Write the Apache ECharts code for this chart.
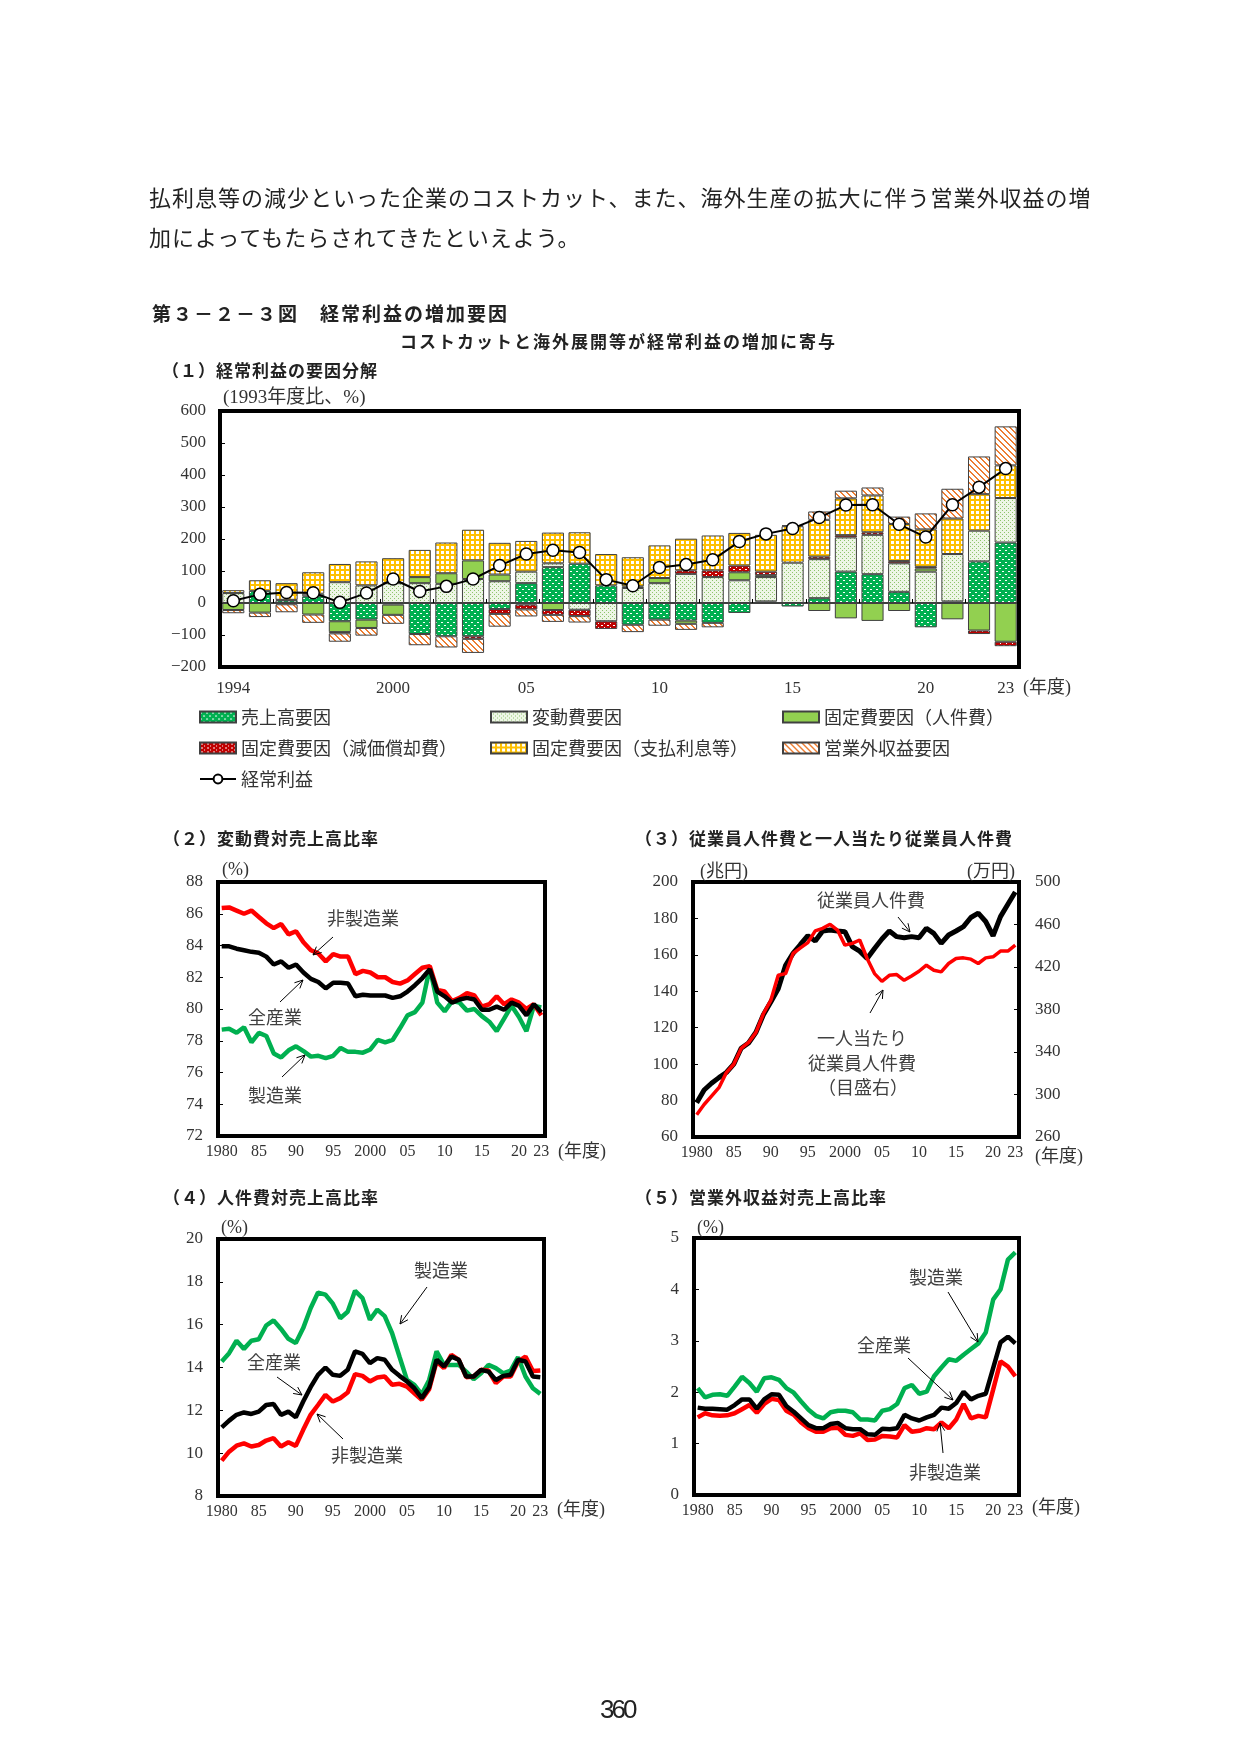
<!DOCTYPE html>
<html lang="ja">
<head>
<meta charset="utf-8">
<title>第３－２－３図　経常利益の増加要因</title>
<script src="https://cdn.jsdelivr.net/npm/echarts@6/dist/echarts.min.js"></script>
<style>
  html, body { margin: 0; padding: 0; background: #fff; }
  #page { position: relative; width: 1241px; height: 1755px; background: #fff; overflow: hidden; }
  #chart { position: absolute; left: 0; top: 0; width: 1241px; height: 1755px; }
  .txt { position: absolute; white-space: nowrap; color: #222; font-family: 'Noto Sans CJK JP', sans-serif; z-index: 2; }
  .body { font-size: 22px; line-height: 28px; letter-spacing: 1px; font-weight: 400; }
  .head { font-weight: 700; font-size: 19px; line-height: 24px; letter-spacing: 2px; }
  .sub { font-weight: 700; font-size: 17px; line-height: 22px; letter-spacing: 2px; }
  .sec { font-weight: 700; font-size: 17px; line-height: 22px; letter-spacing: 1px; }
  .pno { font-family: 'Liberation Sans', sans-serif; font-size: 26px; line-height: 30px; letter-spacing: -3px; }
</style>
</head>
<body>
<div id="page">
  <div id="chart"></div>
  <div class="txt body" style="left:149px; top:182px;">払利息等の減少といった企業のコストカット、また、海外生産の拡大に伴う営業外収益の増</div>
  <div class="txt body" style="left:149px; top:222px;">加によってもたらされてきたといえよう。</div>
  <div class="txt head" style="left:152px; top:301px;">第３－２－３図　経常利益の増加要因</div>
  <div class="txt sub" style="left:400px; top:330px;">コストカットと海外展開等が経常利益の増加に寄与</div>
  <div class="txt sec" style="left:162px; top:359px;">（１）経常利益の要因分解</div>
  <div class="txt sec" style="left:163px; top:827px;">（２）変動費対売上高比率</div>
  <div class="txt sec" style="left:635px; top:827px;">（３）従業員人件費と一人当たり従業員人件費</div>
  <div class="txt sec" style="left:163px; top:1186px;">（４）人件費対売上高比率</div>
  <div class="txt sec" style="left:635px; top:1186px;">（５）営業外収益対売上高比率</div>
  <div class="txt pno" style="left:600px; top:1694px;">360</div>
</div>
<script>
// ---- (1) 経常利益の要因分解（1993年度比、%） ----
const years1 = ['1994', '1995', '1996', '1997', '1998', '1999', '2000', '2001', '2002', '2003',
  '2004', '2005', '2006', '2007', '2008', '2009', '2010', '2011', '2012', '2013',
  '2014', '2015', '2016', '2017', '2018', '2019', '2020', '2021', '2022', '2023'];
const tickYears1 = ['1994', '2000', '2005', '2010', '2015', '2020', '2023'];
const tickLabels1 = ['1994', '2000', '05', '10', '15', '20', '23'];

const salesFactor = [null, 38, 8, 21, -57, -52, -5, -97, -104, -104, -19, 62, 112, 123, 55,
  -68, -52, -55, -62, -31, 5, -11, 15, 98, 90, 35, -76, 5, 130, 189];
const variableFactor = [31, null, 2, 8, 65, 55, 62, 62, 60, 75, 68, 36, 12, -21, -57,
  47, 62, 91, 81, 71, 76, 126, 122, 107, 123, 89, 98, 148, 96, 139];
const laborFactor = [-22, -30, -4, -36, -34, -26, -32, 19, 33, 58, 21, -5, -22, null, null,
  5, 16, -10, null, 25, 6, null, -25, -48, -56, -25, 10, -51, -86, -121];
const deprFactor = [null, null, null, null, -4, null, null, null, null, -8, -15, -15, -15, -20, -24,
  null, null, 11, 21, 21, 11, null, 8, 7, 8, 7, 5, null, -11, -14];
const interestFactor = [9, 33, 52, 67, 57, 75, 78, 85, 96, 96, 99, 96, 96, 98, 98,
  91, 102, 99, 109, 102, 115, 114, 115, 115, 115, 116, 117, 111, 114, 102];
const nonOpFactor = [-10, -14, -25, -26, -26, -24, -28, -35, -35, -44, -40, -22, -22, -20, null,
  -23, -19, -19, -14, null, null, 3, 26, 24, 25, 23, 50, 93, 118, 122];
const ordinaryProfit = [7, 27, 33, 32, 2, 31, 75, 36, 52, 75, 117, 153, 165, 158, 73,
  54, 111, 120, 135, 192, 216, 233, 267, 306, 307, 246, 206, 307, 362, 420];

// ---- (2)-(5) 1980-2023年度 ----
const years2 = ['1980', '1981', '1982', '1983', '1984', '1985', '1986', '1987', '1988', '1989',
  '1990', '1991', '1992', '1993', '1994', '1995', '1996', '1997', '1998', '1999',
  '2000', '2001', '2002', '2003', '2004', '2005', '2006', '2007', '2008', '2009',
  '2010', '2011', '2012', '2013', '2014', '2015', '2016', '2017', '2018', '2019',
  '2020', '2021', '2022', '2023'];
const tickYears2 = ['1980', '1985', '1990', '1995', '2000', '2005', '2010', '2015', '2020', '2023'];
const tickLabels2 = ['1980', '85', '90', '95', '2000', '05', '10', '15', '20', '23'];

// (2) 変動費対売上高比率
const varRatioNonMfg = [86.36, 86.4, 86.2, 86.0, 86.2, 85.8, 85.4, 85.1, 85.35, 84.7,
  84.9, 84.2, 83.7, 83.5, 83.0, 83.45, 83.3, 83.3, 82.2, 82.4,
  82.3, 82.0, 82.0, 81.7, 81.6, 81.8, 82.2, 82.6, 82.7, 81.2,
  81.1, 80.5, 80.7, 81.0, 80.85, 80.15, 80.3, 80.8, 80.3, 80.6,
  80.4, 80.0, 80.3, 79.6];
const varRatioAll = [83.95, 83.95, 83.8, 83.7, 83.6, 83.55, 83.3, 82.8, 83.0, 82.6,
  82.8, 82.3, 81.9, 81.7, 81.3, 81.65, 81.65, 81.6, 80.8, 80.9,
  80.85, 80.85, 80.85, 80.7, 80.8, 81.1, 81.5, 81.95, 82.5, 81.1,
  80.8, 80.4, 80.6, 80.7, 80.6, 79.95, 79.95, 80.15, 79.95, 80.4,
  80.2, 79.6, 80.3, 79.8];
const varRatioMfg = [78.7, 78.75, 78.5, 78.85, 77.9, 78.5, 78.3, 77.2, 76.95, 77.4,
  77.65, 77.35, 77.0, 77.05, 76.9, 77.05, 77.55, 77.3, 77.3, 77.25,
  77.45, 78.05, 77.9, 78.05, 78.8, 79.6, 79.8, 80.4, 82.6, 80.4,
  79.85, 80.5, 80.4, 79.9, 80.0, 79.55, 79.2, 78.6, 79.4, 80.2,
  79.5, 78.6, 80.2, 80.1];

// (3) 従業員人件費（兆円）と一人当たり従業員人件費（万円）
const laborCostTotal = [78.8, 85.8, 89.5, 92.6, 95.4, 100, 108.7, 111.6, 117.5, 127.1,
  134.1, 141.4, 154.3, 160.8, 165.7, 170.5, 167.6, 173.1, 173.7, 173.1,
  172.7, 164.5, 162, 158, 163.5, 168.7, 173.1, 170, 169.4, 170,
  169.4, 174.6, 171.8, 166.3, 170.9, 173.1, 175.5, 180.5, 182.9, 178.3,
  170.5, 181, 187.8, 194.5];
const laborCostPerHead = [281, 290.6, 298.5, 306.4, 320.6, 328.5, 343.4, 349, 358.5, 376,
  388.5, 412.2, 413.8, 432.7, 438, 443, 454, 456.4, 460.2, 454.8,
  440.6, 442.2, 445.4, 428, 413.8, 406.5, 412.2, 412.9, 407.5, 411.6,
  416, 421.7, 417, 415.4, 423.3, 428, 428.6, 427.4, 423.3, 428.6,
  429.6, 435, 435, 440.6];

// (4) 人件費対売上高比率
const laborRatioMfg = [14.28, 14.67, 15.25, 14.87, 15.25, 15.32, 15.96, 16.2, 15.8, 15.34,
  15.14, 15.84, 16.77, 17.5, 17.4, 16.98, 16.3, 16.6, 17.58, 17.24,
  16.23, 16.7, 16.4, 15.6, 14.5, 13.42, 13.19, 12.75, 13.42, 14.75,
  14.12, 14.12, 14.12, 13.81, 13.45, 13.73, 14.12, 13.97, 13.73, 13.86,
  14.48, 13.58, 13.03, 12.77];
const laborRatioAll = [11.2, 11.52, 11.79, 11.9, 11.83, 11.94, 12.25, 12.3, 11.79, 11.94,
  11.68, 12.41, 13.08, 13.66, 14.0, 13.66, 13.61, 13.89, 14.75, 14.64,
  14.2, 14.44, 14.36, 13.89, 13.61, 13.35, 13.03, 12.57, 13.08, 14.36,
  14.05, 14.51, 14.36, 13.58, 13.58, 13.89, 13.81, 13.42, 13.61, 13.66,
  14.36, 14.28, 13.58, 13.55];
const laborRatioNonMfg = [9.65, 10.07, 10.35, 10.46, 10.31, 10.38, 10.59, 10.7, 10.31, 10.51,
  10.34, 11.09, 11.79, 12.25, 12.72, 12.41, 12.57, 12.83, 13.69, 13.61,
  13.35, 13.53, 13.58, 13.19, 13.24, 13.11, 12.8, 12.49, 12.99, 14.28,
  13.97, 14.59, 14.36, 13.55, 13.58, 13.89, 13.86, 13.27, 13.58, 13.58,
  14.28, 14.51, 13.84, 13.86];

// (5) 営業外収益対売上高比率
const nonOpRatioMfg = [2.08, 1.9, 1.95, 1.96, 1.93, 2.11, 2.3, 2.18, 2.01, 2.27,
  2.29, 2.24, 2.08, 1.99, 1.82, 1.66, 1.54, 1.49, 1.61, 1.64,
  1.64, 1.61, 1.47, 1.47, 1.45, 1.64, 1.67, 1.77, 2.08, 2.14,
  1.97, 2.01, 2.31, 2.48, 2.64, 2.61, 2.73, 2.84, 2.95, 3.16,
  3.8, 4.0, 4.58, 4.72];
const nonOpRatioAll = [1.7, 1.68, 1.68, 1.67, 1.66, 1.75, 1.86, 1.86, 1.68, 1.86,
  1.96, 1.95, 1.73, 1.62, 1.49, 1.36, 1.3, 1.3, 1.38, 1.4,
  1.3, 1.28, 1.28, 1.18, 1.17, 1.29, 1.28, 1.3, 1.56, 1.49,
  1.45, 1.51, 1.56, 1.7, 1.68, 1.79, 2.01, 1.86, 1.93, 1.97,
  2.47, 2.97, 3.08, 2.95];
const nonOpRatioNonMfg = [1.51, 1.59, 1.55, 1.54, 1.55, 1.59, 1.67, 1.75, 1.6, 1.77,
  1.87, 1.85, 1.64, 1.56, 1.41, 1.3, 1.23, 1.23, 1.3, 1.31,
  1.17, 1.15, 1.2, 1.07, 1.08, 1.15, 1.14, 1.12, 1.36, 1.23,
  1.25, 1.3, 1.28, 1.41, 1.3, 1.47, 1.77, 1.49, 1.54, 1.51,
  2.05, 2.6, 2.5, 2.31];

const FONT_NUM = "'Liberation Serif', 'Noto Sans CJK JP', serif";
const FONT_JP = "'Noto Sans CJK JP', sans-serif";
const RED = '#ff0000';
const GREEN = '#00b050';

// 塗りパターン
function makePattern(w, h, draw) {
  const c = document.createElement('canvas');
  c.width = w;
  c.height = h;
  draw(c.getContext('2d'));
  return { image: c, repeat: 'repeat' };
}
const patSales = makePattern(6, 6, (ctx) => {
  ctx.fillStyle = '#00b050'; ctx.fillRect(0, 0, 6, 6);
  ctx.fillStyle = '#ffffff'; ctx.fillRect(0, 1, 2, 1); ctx.fillRect(3, 4, 2, 1);
});
const patVariable = makePattern(4, 4, (ctx) => {
  ctx.fillStyle = '#eef6e6'; ctx.fillRect(0, 0, 4, 4);
  ctx.fillStyle = '#8fc46c'; ctx.fillRect(0, 0, 1, 1); ctx.fillRect(2, 2, 1, 1);
});
const patDepr = makePattern(6, 4, (ctx) => {
  ctx.fillStyle = '#c00000'; ctx.fillRect(0, 0, 6, 4);
  ctx.fillStyle = '#ffffff'; ctx.fillRect(1, 1, 2, 1); ctx.fillRect(4, 3, 1, 1);
});
const patInterest = makePattern(5, 5, (ctx) => {
  ctx.fillStyle = '#ffc000'; ctx.fillRect(0, 0, 5, 5);
  ctx.fillStyle = '#ffffff'; ctx.fillRect(1, 1, 3, 3);
});
const patNonOp = makePattern(6, 6, (ctx) => {
  ctx.fillStyle = '#ffffff'; ctx.fillRect(0, 0, 6, 6);
  ctx.fillStyle = '#ed7d31';
  for (let y = 0; y < 6; y++) {
    for (let x = 0; x < 6; x++) {
      if ((x - y + 6) % 6 < 2) ctx.fillRect(x, y, 1, 1);
    }
  }
});

function barSeries(name, data, color) {
  return {
    name, type: 'bar', stack: 'factor', xAxisIndex: 0, yAxisIndex: 0,
    data, barCategoryGap: '17%',
    itemStyle: { color, borderColor: '#404040', borderWidth: 1 },
    animation: false,
  };
}

function lineSeries(name, xi, yi, data, color, width) {
  return {
    name, type: 'line', xAxisIndex: xi, yAxisIndex: yi, data,
    symbol: 'none', lineStyle: { color, width }, itemStyle: { color },
    animation: false,
  };
}

function frame(left, top, width, height) {
  return { left, top, width, height, show: true, borderColor: '#000', borderWidth: 4,
    backgroundColor: 'transparent', outerBoundsMode: 'none' };
}

function yearAxis(gridIndex) {
  return {
    type: 'category', gridIndex, data: years2, boundaryGap: true,
    axisLine: { show: false }, axisTick: { show: false },
    axisLabel: {
      interval: (i) => tickYears2.includes(years2[i]),
      formatter: (v) => tickLabels2[tickYears2.indexOf(v)],
      fontSize: 16, fontFamily: FONT_NUM, color: '#333', margin: 8,
    },
  };
}

function valueAxis(gridIndex, min, max, interval, position, margin) {
  return {
    type: 'value', gridIndex, min, max, interval, position: position || 'left',
    axisLine: { show: false }, splitLine: { show: false },
    axisTick: { show: true, inside: true, length: 5, lineStyle: { color: '#000' } },
    axisLabel: {
      fontSize: 17, fontFamily: FONT_NUM, color: '#333', margin: margin || 15,
      formatter: (v) => (v < 0 ? '−' + Math.abs(v) : String(v)),
    },
  };
}

function label(text, x, y, opts) {
  const o = opts || {};
  const align = o.align || 'left';
  return {
    type: 'text', x, y, z: 100,
    style: {
      text, font: (o.size || 18) + 'px ' + (o.family || FONT_NUM), fill: o.color || '#333',
      align, textAlign: align, verticalAlign: 'middle', textVerticalAlign: 'middle',
    },
  };
}

function arrow(x1, y1, x2, y2) {
  const ang = Math.atan2(y2 - y1, x2 - x1);
  const L = 9, a = 0.45;
  return [
    { type: 'line', z: 100, shape: { x1, y1, x2, y2 }, style: { stroke: '#000', lineWidth: 1 } },
    { type: 'polyline', z: 100,
      shape: { points: [
        [x2 - L * Math.cos(ang - a), y2 - L * Math.sin(ang - a)],
        [x2, y2],
        [x2 - L * Math.cos(ang + a), y2 - L * Math.sin(ang + a)],
      ] },
      style: { stroke: '#000', fill: null, lineWidth: 1 } },
  ];
}

const legendItems = [
  ['売上高要因', 199, 717], ['変動費要因', 490, 717], ['固定費要因（人件費）', 782, 717],
  ['固定費要因（減価償却費）', 199, 748], ['固定費要因（支払利息等）', 490, 748], ['営業外収益要因', 782, 748],
  ['経常利益', 199, 779],
];

const annoTexts = [
  ['非製造業', 363, 918], ['全産業', 275, 1017], ['製造業', 275, 1095],
  ['従業員人件費', 871, 900], ['一人当たり', 862, 1038], ['従業員人件費', 862, 1063], ['（目盛右）', 863, 1087],
  ['製造業', 441, 1270], ['全産業', 274, 1362], ['非製造業', 367, 1455],
  ['製造業', 936, 1277], ['全産業', 884, 1345], ['非製造業', 945, 1472],
];
const annoArrows = [
  [333, 937, 313, 955], [280, 1002, 303, 980], [282, 1077, 305, 1055],
  [898, 917, 910, 932], [870, 1013, 883, 990],
  [427, 1287, 400, 1324], [277, 1377, 302, 1395], [343, 1439, 317, 1414],
  [948, 1292, 978, 1342], [908, 1358, 953, 1400], [943, 1453, 940, 1423],
];

const graphics = [
  label('(1993年度比、%)', 223, 398, { size: 19 }),
  label('(年度)', 1023, 688),
  label('(%)', 222, 870),
  label('(年度)', 558, 1152),
  label('(兆円)', 700, 872),
  label('(万円)', 967, 872),
  label('(年度)', 1035, 1157),
  label('(%)', 221, 1228),
  label('(年度)', 557, 1510),
  label('(%)', 697, 1228),
  label('(年度)', 1032, 1508),
];
annoTexts.forEach(([t, x, y]) => graphics.push(label(t, x, y, { align: 'center', family: FONT_JP, color: '#404040' })));
annoArrows.forEach(([x1, y1, x2, y2]) => graphics.push(...arrow(x1, y1, x2, y2)));

const chart = echarts.init(document.getElementById('chart'), null, { renderer: 'canvas' });

chart.setOption({
  backgroundColor: 'transparent',
  animation: false,
  textStyle: { fontFamily: FONT_JP },
  grid: [
    frame(220, 411, 799, 256),
    frame(218, 882, 327, 254),
    frame(693, 882, 326, 255),
    frame(218, 1239, 326, 257),
    frame(694, 1238, 325, 257),
  ],
  legend: legendItems.map(([name, x, y]) => ({
    data: [name], left: x, top: y - 9, padding: 0, itemGap: 0,
    itemWidth: 36, itemHeight: 11, selectedMode: false,
    icon: name === '経常利益' ? undefined : 'rect',
    textStyle: { fontSize: 18, lineHeight: 18, fontFamily: FONT_JP, color: '#333' },
  })),
  xAxis: [
    {
      type: 'category', gridIndex: 0, data: years1, position: 'bottom',
      axisLine: { show: false, onZero: false }, axisTick: { show: false },
      axisLabel: {
        interval: (i) => tickYears1.includes(years1[i]),
        formatter: (v) => tickLabels1[tickYears1.indexOf(v)],
        fontSize: 17, fontFamily: FONT_NUM, color: '#333', margin: 13,
      },
    },
    {
      type: 'category', gridIndex: 0, data: years1, position: 'bottom',
      axisLine: { show: true, onZero: true, lineStyle: { color: '#000', width: 1.5 } },
      axisTick: { show: true, inside: true, length: 4, lineStyle: { color: '#000' } },
      axisLabel: { show: false },
    },
    yearAxis(1),
    yearAxis(2),
    yearAxis(3),
    yearAxis(4),
  ],
  yAxis: [
    valueAxis(0, -200, 600, 100, 'left', 14),
    valueAxis(1, 72, 88, 2),
    valueAxis(2, 60, 200, 20),
    valueAxis(2, 260, 500, 40, 'right', 16),
    valueAxis(3, 8, 20, 2),
    valueAxis(4, 0, 5, 1),
  ],
  series: [
    barSeries('売上高要因', salesFactor, patSales),
    barSeries('変動費要因', variableFactor, patVariable),
    barSeries('固定費要因（人件費）', laborFactor, '#92d050'),
    barSeries('固定費要因（減価償却費）', deprFactor, patDepr),
    barSeries('固定費要因（支払利息等）', interestFactor, patInterest),
    barSeries('営業外収益要因', nonOpFactor, patNonOp),
    {
      name: '経常利益', type: 'line', xAxisIndex: 0, yAxisIndex: 0, data: ordinaryProfit, z: 5,
      symbol: 'circle', symbolSize: 12, showSymbol: true,
      lineStyle: { color: '#000', width: 2 },
      itemStyle: { color: '#fff', borderColor: '#000', borderWidth: 1.5 },
      animation: false,
    },
    lineSeries('製造業(2)', 2, 1, varRatioMfg, GREEN, 4.5),
    lineSeries('非製造業(2)', 2, 1, varRatioNonMfg, RED, 4.5),
    lineSeries('全産業(2)', 2, 1, varRatioAll, '#000', 4.5),
    lineSeries('従業員人件費', 3, 2, laborCostTotal, '#000', 5),
    lineSeries('一人当たり従業員人件費', 3, 3, laborCostPerHead, RED, 3.5),
    lineSeries('製造業(4)', 4, 4, laborRatioMfg, GREEN, 4.5),
    lineSeries('非製造業(4)', 4, 4, laborRatioNonMfg, RED, 4.5),
    lineSeries('全産業(4)', 4, 4, laborRatioAll, '#000', 4.5),
    lineSeries('製造業(5)', 5, 5, nonOpRatioMfg, GREEN, 4.5),
    lineSeries('非製造業(5)', 5, 5, nonOpRatioNonMfg, RED, 4.5),
    lineSeries('全産業(5)', 5, 5, nonOpRatioAll, '#000', 4.5),
  ],
  graphic: graphics,
});
</script>
</body>
</html>
